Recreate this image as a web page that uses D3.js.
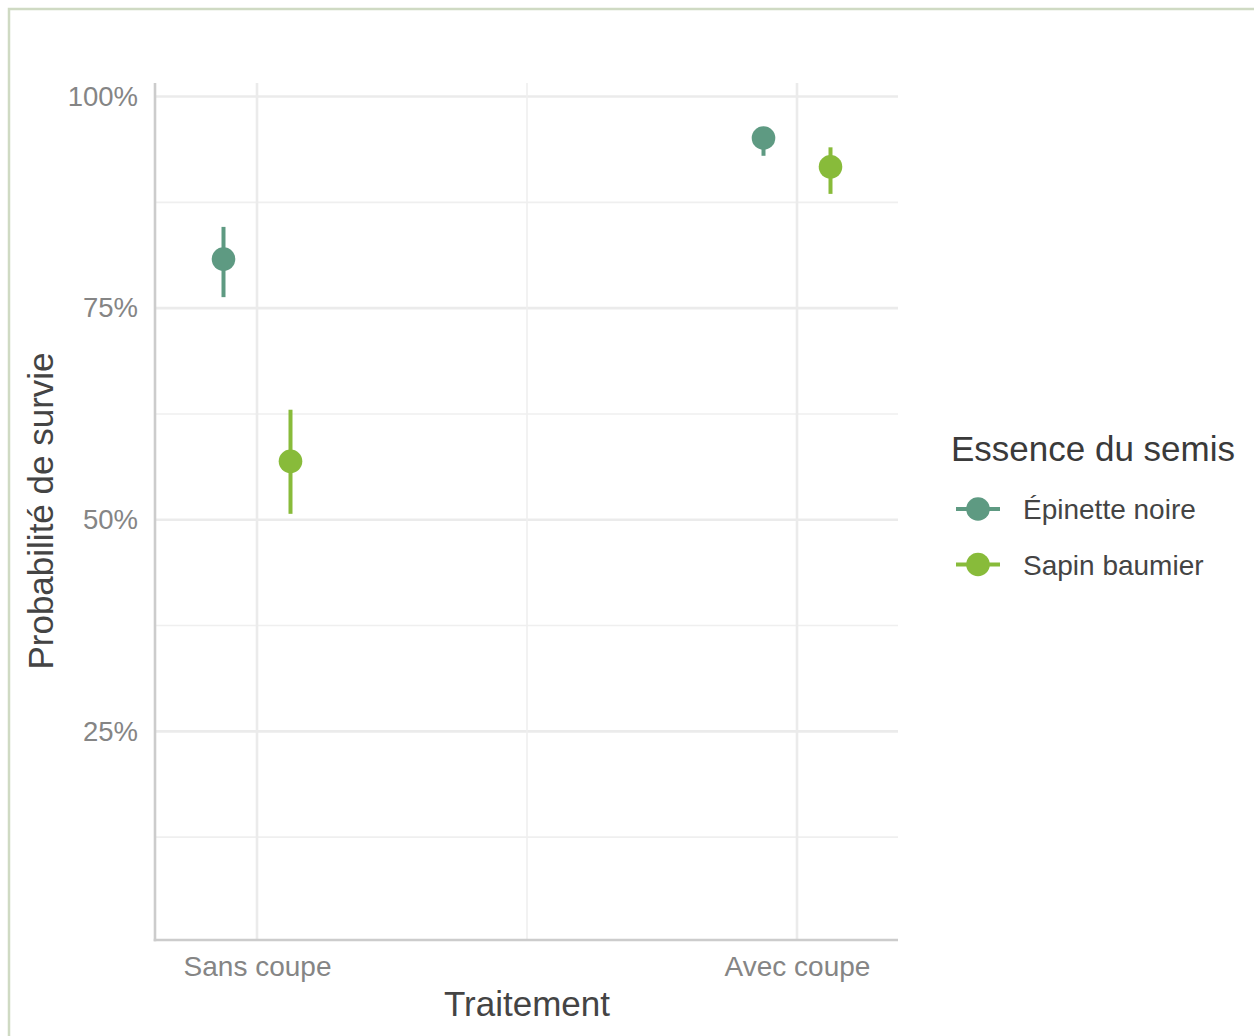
<!DOCTYPE html>
<html>
<head>
<meta charset="utf-8">
<script src="https://cdn.jsdelivr.net/npm/d3@7"></script>
<style>
  html, body { margin: 0; padding: 0; background: #ffffff; }
  svg { display: block; font-family: "Liberation Sans", Arial, sans-serif; }
</style>
</head>
<body>
<svg id="chart" width="1254" height="1036"></svg>
<script>
// Treatments on the x axis
const treatments = ["Sans coupe", "Avec coupe"];
// Seedling species (legend)
const species = ["Épinette noire", "Sapin baumier"];
const speciesColors = ["#5e9a82", "#88bb3a"];
// Estimated survival probability and interval bounds, per species, in treatment order
const epinetteEst = [0.808, 0.951];
const epinetteLow = [0.763, 0.930];
const epinetteHigh = [0.846, 0.963];
const sapinEst = [0.569, 0.917];
const sapinLow = [0.507, 0.885];
const sapinHigh = [0.630, 0.940];
// Y tick values
const yTicks = [0.25, 0.5, 0.75, 1.0];
const yMinor = [0.125, 0.375, 0.625, 0.875];

const rows = [];
treatments.forEach((t, i) => {
  rows.push({ treatment: t, sp: species[0], est: epinetteEst[i], lo: epinetteLow[i], hi: epinetteHigh[i] });
  rows.push({ treatment: t, sp: species[1], est: sapinEst[i], lo: sapinLow[i], hi: sapinHigh[i] });
});

const svg = d3.select("#chart");

// outer frame
svg.append("rect").attr("x", 9).attr("y", 9).attr("width", 1260).attr("height", 1040)
  .attr("fill", "none").attr("stroke", "#cfdac3").attr("stroke-width", 2.5);

const plot = { left: 155, right: 898, top: 83, bottom: 940 };

const x = d3.scalePoint().domain(treatments).range([257, 797]);
const y = d3.scaleLinear().domain([0.0035, 1.016]).range([plot.bottom, plot.top]);
const color = d3.scaleOrdinal().domain(species).range(speciesColors);
const dodge = d3.scalePoint().domain(species).range([-33.5, 33.5]);

const g = svg.append("g");

// grid
g.selectAll(".ymin").data(yMinor).join("line")
  .attr("x1", plot.left).attr("x2", plot.right)
  .attr("y1", d => y(d)).attr("y2", d => y(d))
  .attr("stroke", "#efefef").attr("stroke-width", 1.6);
g.selectAll(".ymaj").data(yTicks).join("line")
  .attr("x1", plot.left).attr("x2", plot.right)
  .attr("y1", d => y(d)).attr("y2", d => y(d))
  .attr("stroke", "#ebebeb").attr("stroke-width", 2.6);
g.append("line").attr("x1", (x(treatments[0]) + x(treatments[1])) / 2).attr("x2", (x(treatments[0]) + x(treatments[1])) / 2)
  .attr("y1", plot.top).attr("y2", plot.bottom).attr("stroke", "#efefef").attr("stroke-width", 1.6);
g.selectAll(".xmaj").data(treatments).join("line")
  .attr("x1", d => x(d)).attr("x2", d => x(d))
  .attr("y1", plot.top).attr("y2", plot.bottom)
  .attr("stroke", "#ebebeb").attr("stroke-width", 2.6);

// axis lines
g.append("line").attr("x1", plot.left).attr("x2", plot.left).attr("y1", plot.top).attr("y2", plot.bottom + 1.3)
  .attr("stroke", "#cccccc").attr("stroke-width", 2.6);
g.append("line").attr("x1", plot.left - 1.3).attr("x2", plot.right).attr("y1", plot.bottom).attr("y2", plot.bottom)
  .attr("stroke", "#cccccc").attr("stroke-width", 2.6);

// y axis labels
const yAxis = d3.axisLeft(y).tickValues(yTicks).tickFormat(d3.format(".0%")).tickSize(0).tickPadding(17);
const ya = g.append("g").attr("transform", `translate(${plot.left},0)`).call(yAxis);
ya.select(".domain").remove();
ya.selectAll("text").attr("font-size", 27.5).attr("fill", "#858585").attr("font-family", "Liberation Sans, Arial, sans-serif");

// x axis labels
const xAxis = d3.axisBottom(x).tickSize(0).tickPadding(16);
const xa = g.append("g").attr("transform", `translate(0,${plot.bottom})`).call(xAxis);
xa.select(".domain").remove();
xa.selectAll("text").attr("font-size", 28).attr("fill", "#858585").attr("font-family", "Liberation Sans, Arial, sans-serif");

// axis titles
svg.append("text").attr("x", 527).attr("y", 1016).attr("text-anchor", "middle")
  .attr("font-size", 35).attr("fill", "#444").text("Traitement");
svg.append("text").attr("transform", "translate(53,511) rotate(-90)").attr("text-anchor", "middle")
  .attr("font-size", 35).attr("fill", "#444").text("Probabilité de survie");

// interval bars and points
const marks = g.selectAll(".mark").data(rows).join("g")
  .attr("transform", d => `translate(${x(d.treatment) + dodge(d.sp)},0)`);
marks.append("line")
  .attr("y1", d => y(d.lo)).attr("y2", d => y(d.hi))
  .attr("stroke", d => color(d.sp)).attr("stroke-width", 4);
marks.append("circle")
  .attr("cy", d => y(d.est)).attr("r", 11.8)
  .attr("fill", d => color(d.sp));

// legend
const lg = svg.append("g");
lg.append("text").attr("x", 951).attr("y", 461).attr("font-size", 35).attr("fill", "#3a3a3a").text("Essence du semis");
const items = lg.selectAll(".item").data(species).join("g")
  .attr("transform", (d, i) => `translate(0,${509 + i * 55.5})`);
items.append("line").attr("x1", 956).attr("x2", 1000).attr("y1", 0).attr("y2", 0)
  .attr("stroke", d => color(d)).attr("stroke-width", 4);
items.append("circle").attr("cx", 978).attr("cy", 0).attr("r", 11.8).attr("fill", d => color(d));
items.append("text").attr("x", 1023).attr("y", 10).attr("font-size", 28).attr("fill", "#444").text(d => d);
</script>
</body>
</html>
